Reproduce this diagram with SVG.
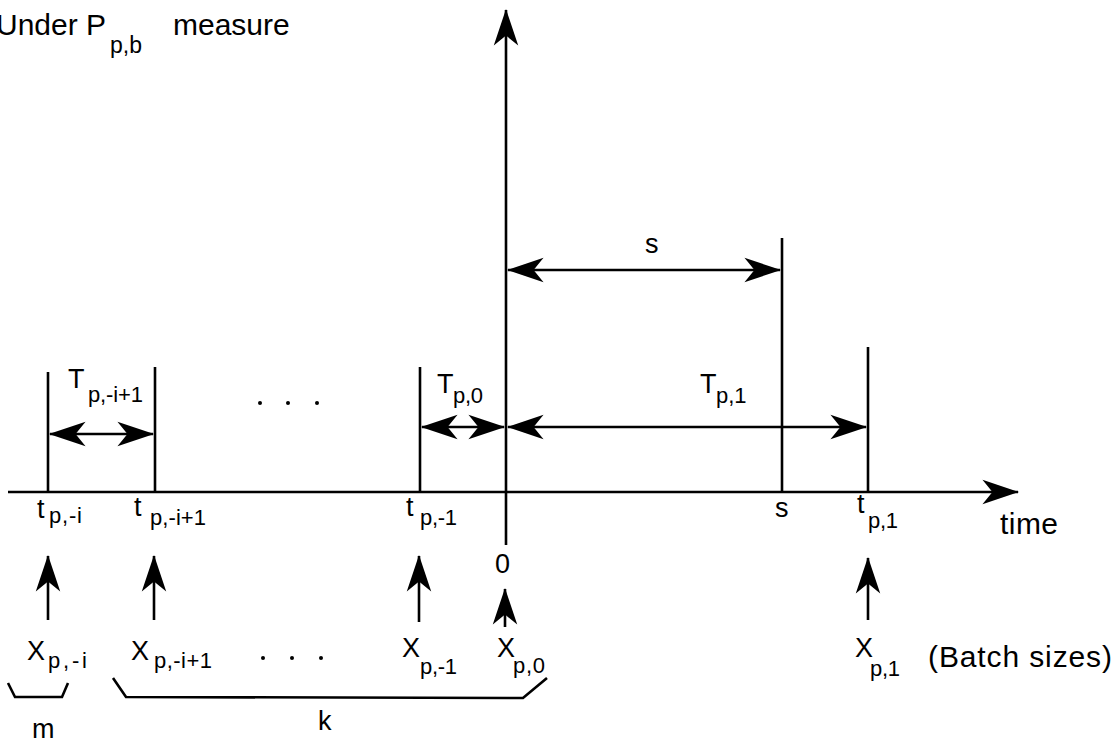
<svg xmlns="http://www.w3.org/2000/svg" width="1119" height="743" viewBox="0 0 1119 743">
<defs>
<style>
.ln{stroke:#000;stroke-width:2.6;fill:none}
.t{font-family:"Liberation Sans",Arial,Helvetica,sans-serif;fill:#000}
.m{font-size:30px}
.l{font-size:27px}
.s{font-size:22px}
</style>
<marker id="ah" markerUnits="userSpaceOnUse" markerWidth="40" markerHeight="30" viewBox="-34 -12 36 24" refX="0" refY="0" orient="auto-start-reverse">
<path d="M1,0 L-32,-11 L-23,0 L-32,11 Z" fill="#000"/>
</marker>
</defs>
<rect width="1119" height="743" fill="#fff"/>

<g id="title">
<text class="t m" x="-4" y="35">Under P</text>
<text class="t s" x="110" y="53" style="font-size:23px">p,b</text>
<text class="t m" x="173" y="35">measure</text>
</g>

<g id="axes">
<line class="ln" x1="8" y1="492" x2="1018" y2="492" marker-end="url(#ah)"/>
<line class="ln" x1="506" y1="545" x2="506" y2="10" marker-end="url(#ah)"/>
<text class="t m" x="1000" y="534" textLength="58" lengthAdjust="spacing">time</text>
</g>

<g id="ticks">
<line class="ln" x1="48" y1="372" x2="48" y2="492"/>
<line class="ln" x1="155" y1="367" x2="155" y2="492"/>
<line class="ln" x1="420" y1="367" x2="420" y2="492"/>
<line class="ln" x1="782" y1="238" x2="782" y2="492"/>
<line class="ln" x1="868" y1="347" x2="868" y2="492"/>
</g>

<g id="tick-labels">
<text class="t l" x="37" y="518">t</text>
<text class="t s" x="49" y="523" textLength="33" lengthAdjust="spacing">p,-i</text>
<text class="t l" x="134" y="516">t</text>
<text class="t s" x="150" y="525" textLength="56" lengthAdjust="spacing">p,-i+1</text>
<text class="t l" x="406" y="516">t</text>
<text class="t s" x="420" y="525" textLength="37" lengthAdjust="spacing">p,-1</text>
<text class="t l" x="495" y="573">0</text>
<text class="t l" x="775" y="517">s</text>
<text class="t l" x="857" y="513">t</text>
<text class="t s" x="868" y="528" textLength="30" lengthAdjust="spacing">p,1</text>
</g>

<g id="interval-labels">
<text class="t l" x="68" y="388">T</text>
<text class="t s" x="88" y="402" textLength="55" lengthAdjust="spacing">p,-i+1</text>
<text class="t l" x="437" y="393">T</text>
<text class="t s" x="453" y="403" textLength="30" lengthAdjust="spacing">p,0</text>
<text class="t l" x="700" y="393">T</text>
<text class="t s" x="716" y="403">p,1</text>
<text class="t l" x="645" y="253">s</text>
</g>

<g id="dots" fill="#000">
<circle cx="260" cy="403" r="2"/>
<circle cx="288" cy="403" r="2"/>
<circle cx="317" cy="403" r="2"/>
<circle cx="263" cy="658" r="2"/>
<circle cx="292" cy="658" r="2"/>
<circle cx="321" cy="658" r="2"/>
</g>

<g id="batch-labels">
<text class="t l" x="27" y="660">X</text>
<text class="t s" x="48" y="668" textLength="39" lengthAdjust="spacing">p,-i</text>
<text class="t l" x="131" y="660">X</text>
<text class="t s" x="154" y="668" textLength="58" lengthAdjust="spacing">p,-i+1</text>
<text class="t l" x="402" y="657">X</text>
<text class="t s" x="420" y="674" textLength="37" lengthAdjust="spacing">p,-1</text>
<text class="t l" x="497" y="657">X</text>
<text class="t s" x="513" y="673" textLength="32" lengthAdjust="spacing">p,0</text>
<text class="t l" x="855" y="657">X</text>
<text class="t s" x="870" y="676" textLength="30" lengthAdjust="spacing">p,1</text>
<text class="t m" x="928" y="667" textLength="184" lengthAdjust="spacing">(Batch sizes)</text>
</g>

<g id="groups">
<polyline class="ln" points="8,683 15,697 62,697 68,683"/>
<polyline class="ln" points="113,678 126,697 523,698 547,678"/>
<text class="t l" x="32" y="738">m</text>
<text class="t l" x="318" y="730">k</text>
</g>

<g id="connectors">
<line class="ln" x1="50" y1="434" x2="153" y2="434" marker-start="url(#ah)" marker-end="url(#ah)"/>
<line class="ln" x1="422" y1="427" x2="504" y2="427" marker-start="url(#ah)" marker-end="url(#ah)"/>
<line class="ln" x1="508" y1="427" x2="866" y2="427" marker-start="url(#ah)" marker-end="url(#ah)"/>
<line class="ln" x1="508" y1="270" x2="780" y2="270" marker-start="url(#ah)" marker-end="url(#ah)"/>
<line class="ln" x1="48" y1="620" x2="48" y2="556" marker-end="url(#ah)"/>
<line class="ln" x1="154" y1="620" x2="154" y2="556" marker-end="url(#ah)"/>
<line class="ln" x1="419" y1="622" x2="419" y2="556" marker-end="url(#ah)"/>
<line class="ln" x1="505" y1="627" x2="505" y2="589" marker-end="url(#ah)"/>
<line class="ln" x1="868" y1="620" x2="868" y2="558" marker-end="url(#ah)"/>
</g>
</svg>
